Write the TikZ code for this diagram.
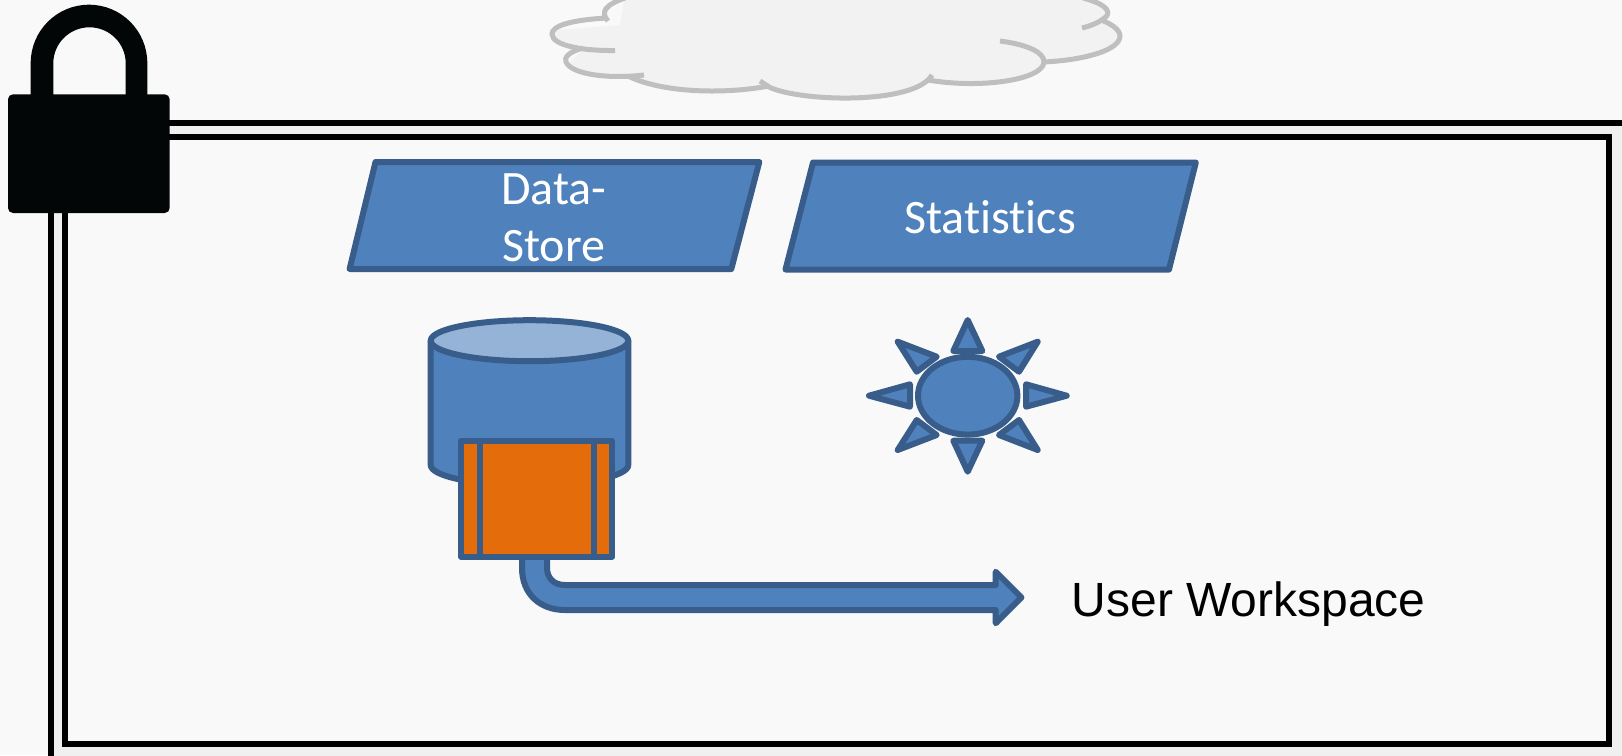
\documentclass[tikz,border=0pt]{standalone}
\usepackage{fontspec}
\setmainfont[Ligatures={NoCommon,NoRequired,NoContextual}]{Carlito}
\newfontfamily\arialfont{Liberation Sans}
\definecolor{bgc}{HTML}{F9F9F9}
\definecolor{bandc}{HTML}{F0F0F0}
\definecolor{lockc}{HTML}{020606}
\definecolor{cloudfill}{HTML}{F2F2F2}
\definecolor{cloudline}{HTML}{BFBFBF}
\definecolor{bluefill}{HTML}{4F81BD}
\definecolor{blueline}{HTML}{385D8A}
\definecolor{lightblue}{HTML}{95B3D7}
\definecolor{orangefill}{HTML}{E46C0A}
\tikzset{
  x=1pt,y=-1pt,
  blueshape/.style={fill=bluefill,draw=blueline,line width=6pt,line join=round},
  cloudstroke/.style={draw=cloudline,line width=5pt},
  frameline/.style={draw=black,line width=6pt,line join=miter},
  whitelabel/.style={text=white,font=\fontsize{48}{53}\selectfont,anchor=base,inner sep=0pt},
}
\begin{document}
\begin{tikzpicture}
\useasboundingbox (0,0) rectangle (1622,755);
\clip (0,0) rectangle (1622,755);
\fill[bgc] (0,0) rectangle (1622,755);
% workspace frame
\path[frameline,fill=bandc] (50.5,790) -- (50.5,123) -- (1660,123) -- (1660,790) -- cycle;
\path[frameline,fill=bgc] (65,137) rectangle (1608.7,744);
% lock
\fill[lockc] (30.7,100) -- (30.7,63) arc[start angle=180,end angle=0,x radius=58.3,y radius=-58.3] -- (147.3,100) -- (125.7,100) -- (125.7,63.3) arc[start angle=0,end angle=180,x radius=36.2,y radius=-36] -- (53.3,100) -- cycle;
\fill[lockc,rounded corners=5pt] (8,94.3) rectangle (169.7,213);
% cloud
\fill[cloudfill] (625,-5) -- (620,25) -- (560,30) .. controls (545,35) and (545,45) .. (583,50)
  -- (570,62) .. controls (570,72) and (590,77) .. (630,76)
  .. controls (660,90) and (720,95) .. (769,86)
  .. controls (800,102) and (910,105) .. (929,80)
  .. controls (980,88) and (1045,78) .. (1044,62)
  .. controls (1080,60) and (1125,50) .. (1119,35)
  .. controls (1115,28) and (1110,24) .. (1101,20)
  .. controls (1110,15) and (1110,5) .. (1085,-5) -- cycle;
\draw[cloudstroke] (625,-2) .. controls (605,5) and (600,12) .. (608,21);
\draw[cloudstroke] (607,18) .. controls (570,20) and (552,26) .. (552,34) .. controls (552,46) and (585,51) .. (615,50.5);
\draw[cloudstroke] (583,48) .. controls (568,52) and (564,58) .. (566,62) .. controls (572,75) and (610,79) .. (644,75);
\draw[cloudstroke] (628,76) .. controls (660,92) and (720,95) .. (769,86);
\draw[cloudstroke] (760,81) -- (769,87) .. controls (800,102) and (915,105) .. (932,75);
\draw[cloudstroke] (928,80) .. controls (980,89) and (1043,80) .. (1044,62) .. controls (1044,53) and (1030,45) .. (1000,41);
\draw[cloudstroke] (1044,62) .. controls (1085,60) and (1120,50) .. (1120,36) .. controls (1120,30) and (1112,24) .. (1101,20);
\draw[cloudstroke] (1082,28) .. controls (1090,26) and (1098,23) .. (1103,19) .. controls (1112,14) and (1110,5) .. (1083,-2);
% parallelograms
\path[blueshape] (375.5,162) -- (759.3,162) -- (731.3,269) -- (349.6,269) -- cycle;
\path[blueshape] (813,162.5) -- (1195.8,162.5) -- (1169,269.5) -- (785.5,269.5) -- cycle;
\node[whitelabel] (datalabel) at (554,204.5) {Data-};
\node[whitelabel] (storelabel) at (553.5,261) {Store};
\node[whitelabel] (statlabel) at (990,233.5) {Statistics};
% cylinder
\path[blueshape] (430.7,340.7) -- (430.7,465) arc[start angle=180,end angle=360,x radius=98.8,y radius=-20.5] -- (628.3,340.7) -- cycle;
\path[blueshape,fill=lightblue] (529.5,340.7) ellipse[x radius=98.8,y radius=20.5];
% arrow
\path[blueshape] (522,556) -- (522,568) .. controls (522,594) and (540,610) .. (565,610) -- (995.7,610) -- (995.7,623.3) -- (1021.4,597.4) -- (995.7,571.7) -- (995.7,585) -- (565,585) .. controls (553,585) and (547,577) .. (547,568) -- (547,556) -- cycle;
% process box
\path[blueshape,fill=orangefill] (461,440.7) rectangle (612.3,556.7);
\draw[blueline,line width=6pt] (480.3,440.7) -- (480.3,556.7);
\draw[blueline,line width=6pt] (593.7,440.7) -- (593.7,556.7);
% sun
\path[blueshape] (967.7,395.7) ellipse[x radius=49.7,y radius=38.9];
\path[blueshape] (967.7,320) -- (953.3,351) -- (982.3,351) -- cycle;
\path[blueshape] (1066.7,395.7) -- (1026,384.3) -- (1026,406.7) -- cycle;
\path[blueshape] (967.7,471.7) -- (953.3,440.7) -- (982.3,440.7) -- cycle;
\path[blueshape] (869,395.7) -- (910,384.3) -- (910,406.7) -- cycle;
\path[blueshape] (1037.7,341.7) -- (999,356.7) -- (1019,371.7) -- cycle;
\path[blueshape] (897.7,341.7) -- (936.7,356.7) -- (916.7,371.7) -- cycle;
\path[blueshape] (1037.7,450) -- (999,435) -- (1019,420) -- cycle;
\path[blueshape] (897.7,450) -- (936.7,435) -- (916.7,420) -- cycle;
% label
\node[anchor=base west,inner sep=0pt,text=black,font=\arialfont\fontsize{48}{54}\selectfont] (wslabel) at (1071.6,616.5) {User Workspace};
\end{tikzpicture}
\end{document}
